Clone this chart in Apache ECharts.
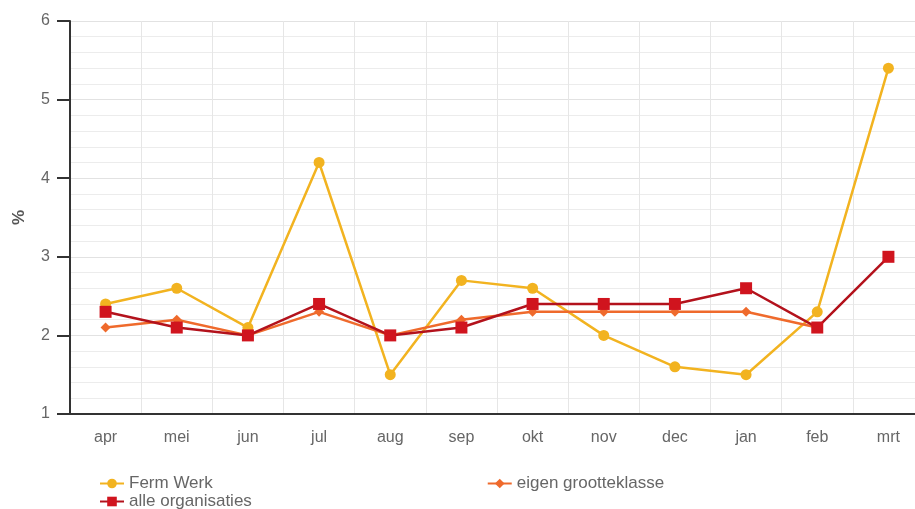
<!DOCTYPE html>
<html>
<head>
<meta charset="utf-8">
<script src="https://cdn.jsdelivr.net/npm/echarts@6/dist/echarts.min.js"></script>
<style>html,body{margin:0;padding:0;background:#fff;}#c{width:915px;height:509px;}</style>
</head>
<body>
<div id="c"></div>
<script>
const categories = ['apr','mei','jun','jul','aug','sep','okt','nov','dec','jan','feb','mrt'];
const fermWerk = [2.4, 2.6, 2.1, 4.2, 1.5, 2.7, 2.6, 2.0, 1.6, 1.5, 2.3, 5.4];
const eigenGrootteklasse = [2.1, 2.2, 2.0, 2.3, 2.0, 2.2, 2.3, 2.3, 2.3, 2.3, 2.1, null];
const alleOrganisaties = [2.3, 2.1, 2.0, 2.4, 2.0, 2.1, 2.4, 2.4, 2.4, 2.6, 2.1, 3.0];
const yTicks = [1, 2, 3, 4, 5, 6];

const chart = echarts.init(document.getElementById('c'));
const font = 'Liberation Sans, Arial, sans-serif';
chart.setOption({
  animation: false,
  backgroundColor: '#fff',
  textStyle: { fontFamily: font },
  grid: { left: 70, top: 21, width: 854, height: 393, containLabel: false, outerBoundsMode: 'none' },
  legend: [
    { data: ['Ferm Werk', 'eigen grootteklasse'], left: 94, top: 470, itemWidth: 24, itemHeight: 12, itemGap: 274,
      textStyle: { fontSize: 17, color: '#666', fontFamily: font } },
    { data: ['alle organisaties'], left: 94, top: 488, itemWidth: 24, itemHeight: 12,
      textStyle: { fontSize: 17, color: '#666', fontFamily: font } }
  ],
  xAxis: {
    type: 'category', data: categories, boundaryGap: true,
    axisLine: { lineStyle: { color: '#333', width: 2 } },
    axisTick: { show: false },
    axisLabel: { color: '#666', fontSize: 16, margin: 16 },
    splitLine: { show: true, lineStyle: { color: '#e6e6e6', width: 1 } }
  },
  yAxis: {
    type: 'value', min: yTicks[0], max: yTicks[yTicks.length - 1], interval: 1,
    name: '%', nameLocation: 'middle', nameGap: 42, nameRotate: 90,
    nameTextStyle: { color: '#555', fontSize: 17, fontWeight: 'bold' },
    axisLine: { show: true, lineStyle: { color: '#333', width: 2 } },
    axisTick: { show: true, length: 13, lineStyle: { color: '#333', width: 2 } },
    axisLabel: { color: '#666', fontSize: 16, margin: 20 },
    splitLine: { show: true, lineStyle: { color: '#e2e2e2' } },
    minorTick: { show: false, splitNumber: 5 },
    minorSplitLine: { show: true, lineStyle: { color: '#ececec' } }
  },
  series: [
    { name: 'Ferm Werk', type: 'line', data: fermWerk, symbol: 'circle', symbolSize: 11,
      itemStyle: { color: '#f2b320' }, lineStyle: { color: '#f2b320', width: 2.5 }, z: 3 },
    { name: 'eigen grootteklasse', type: 'line', data: eigenGrootteklasse, symbol: 'diamond', symbolSize: 10,
      itemStyle: { color: '#ef6a2c' }, lineStyle: { color: '#ef6a2c', width: 2.5 }, z: 4 },
    { name: 'alle organisaties', type: 'line', data: alleOrganisaties, symbol: 'rect', symbolSize: 12,
      itemStyle: { color: '#d0141e' }, lineStyle: { color: '#b3121c', width: 2.5 }, z: 5 }
  ]
});
</script>
</body>
</html>
